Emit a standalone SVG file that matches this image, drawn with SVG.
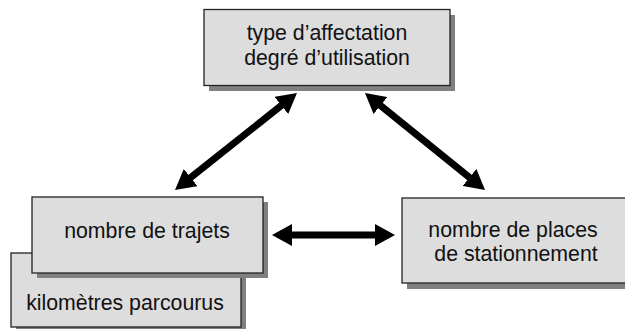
<svg xmlns="http://www.w3.org/2000/svg" width="625" height="329" viewBox="0 0 625 329">
<defs>
<style>
.shadow{fill:#808080;stroke:none}
.box{fill:#dddddd;stroke:#222;stroke-width:1.3}
.lbl{font-family:"Liberation Sans",Arial,sans-serif;font-size:21.3px;fill:#111;text-anchor:middle}
.conn{stroke:#000;stroke-width:7;fill:none;marker-start:url(#ah);marker-end:url(#ah)}
</style>
<marker id="ah" viewBox="0 0 20 22" refX="8" refY="11" markerWidth="20" markerHeight="22" markerUnits="userSpaceOnUse" orient="auto-start-reverse">
<path d="M0,0 L20,11 L0,22 z" fill="#000"/>
</marker>
</defs>
<rect width="625" height="329" fill="#fff"/>
<g id="node-top">
<rect class="shadow" x="209" y="15" width="246" height="76"/>
<rect class="box" x="204" y="9.5" width="246" height="76"/>
<text class="lbl" x="327" y="40">type d’affectation</text>
<text class="lbl" x="327" y="64.5">degré d’utilisation</text>
</g>
<g id="node-km">
<rect class="shadow" x="16" y="258" width="230" height="80"/>
<rect class="box" x="11" y="253" width="230" height="74"/>
<text class="lbl" x="125" y="310">kilomètres parcourus</text>
</g>
<g id="node-trajets">
<rect class="shadow" x="37" y="202" width="231" height="76"/>
<rect class="box" x="32" y="197" width="231" height="76"/>
<text class="lbl" x="147" y="238">nombre de trajets</text>
</g>
<g id="node-places">
<rect class="shadow" x="407" y="203" width="230" height="86"/>
<rect class="box" x="402" y="198" width="230" height="85"/>
<text class="lbl" x="513" y="237">nombre de places</text>
<text class="lbl" x="516" y="261">de stationnement</text>
</g>
<g id="connectors">
<line class="conn" x1="287.6" y1="100.5" x2="184.4" y2="182.5"/>
<line class="conn" x1="374.3" y1="100.5" x2="475.7" y2="182.5"/>
<line class="conn" x1="284" y1="235" x2="383" y2="235"/>
</g>
</svg>
